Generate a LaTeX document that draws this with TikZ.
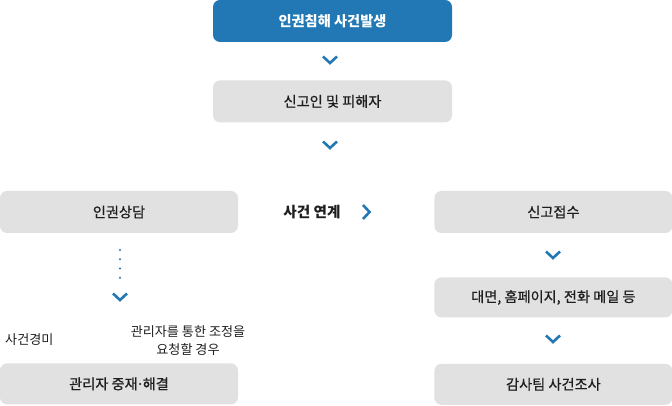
\documentclass[tikz,border=0pt]{standalone}
\usepackage{fontspec}
\setmainfont{Noto Sans CJK KR}
\newfontfamily\medfont{Noto Sans CJK KR}[FakeBold=0.6]
\usetikzlibrary{positioning}
\definecolor{mainblue}{RGB}{34,120,180}
\definecolor{boxgray}{RGB}{225,225,225}
\definecolor{ink}{RGB}{30,30,30}
\newcommand{\middot}{\kern-1.5pt·\kern-1.5pt}
\tikzset{
  box/.style={fill=boxgray,text=ink,rounded corners=7pt,minimum width=238pt,minimum height=42pt,inner sep=0pt,font=\medfont\fontsize{14.2pt}{16pt}\selectfont},
  chev/.style={draw=mainblue,line width=2.6pt,line cap=butt,line join=miter},
  chevdown/.pic={\draw[chev] (-7pt,3.5pt) -- (0,-3pt) -- (7pt,3.5pt);},
  chevright/.pic={\draw[chev] (-3pt,7pt) -- (3.5pt,0) -- (-3pt,-7pt);},
  note/.style={text=ink,font=\fontsize{13.1pt}{18pt}\selectfont,inner sep=0pt,align=center}
}
\begin{document}
\begin{tikzpicture}[x=1pt,y=1pt]
        \useasboundingbox (0,0) rectangle (672,406);
        \node[box,fill=mainblue,text=white,minimum width=239pt,font=\fontsize{14.2pt}{16pt}\selectfont\bfseries] (start) at (332.5,385) {인권침해 사건발생};
        \node[box,minimum width=239pt,below=38pt of start] (report) {신고인 및 피해자};
        \node[box] (counsel) at (119,194) {인권상담};
        \node[box,right=196pt of counsel] (receipt) {신고접수};
        \node[box,minimum height=40pt,below=44pt of receipt] (channel) {대면, 홈페이지, 전화 메일 등};
        \node[box,minimum height=41pt,below=46pt of channel] (audit) {감사팀 사건조사};
        \node[box,minimum height=41pt,below=130pt of counsel] (mediate) {관리자 중재\middot 해결};
        \node[text=ink,font=\fontsize{14.6pt}{16pt}\selectfont\bfseries,inner sep=0pt] (link) at (312,194) {사건 연계};
        \node[note,anchor=west] (minor) at (5,66) {사건경미};
        \node[note] (request) at (188,65) {관리자를 통한 조정을\\요청할 경우};
        \coordinate (dtop) at (120,156);
        \coordinate (dbot) at (120,119);
        \draw[mainblue,line width=2.2pt,line cap=round,dash pattern=on 0pt off 9.25pt] (dtop) -- (dbot);
        \pic at (330,346) {chevdown};
        \pic at (330,261) {chevdown};
        \pic at (366,194) {chevright};
        \pic at (120,109) {chevdown};
        \pic at (553,151) {chevdown};
        \pic at (553,67) {chevdown};
\end{tikzpicture}
\end{document}
